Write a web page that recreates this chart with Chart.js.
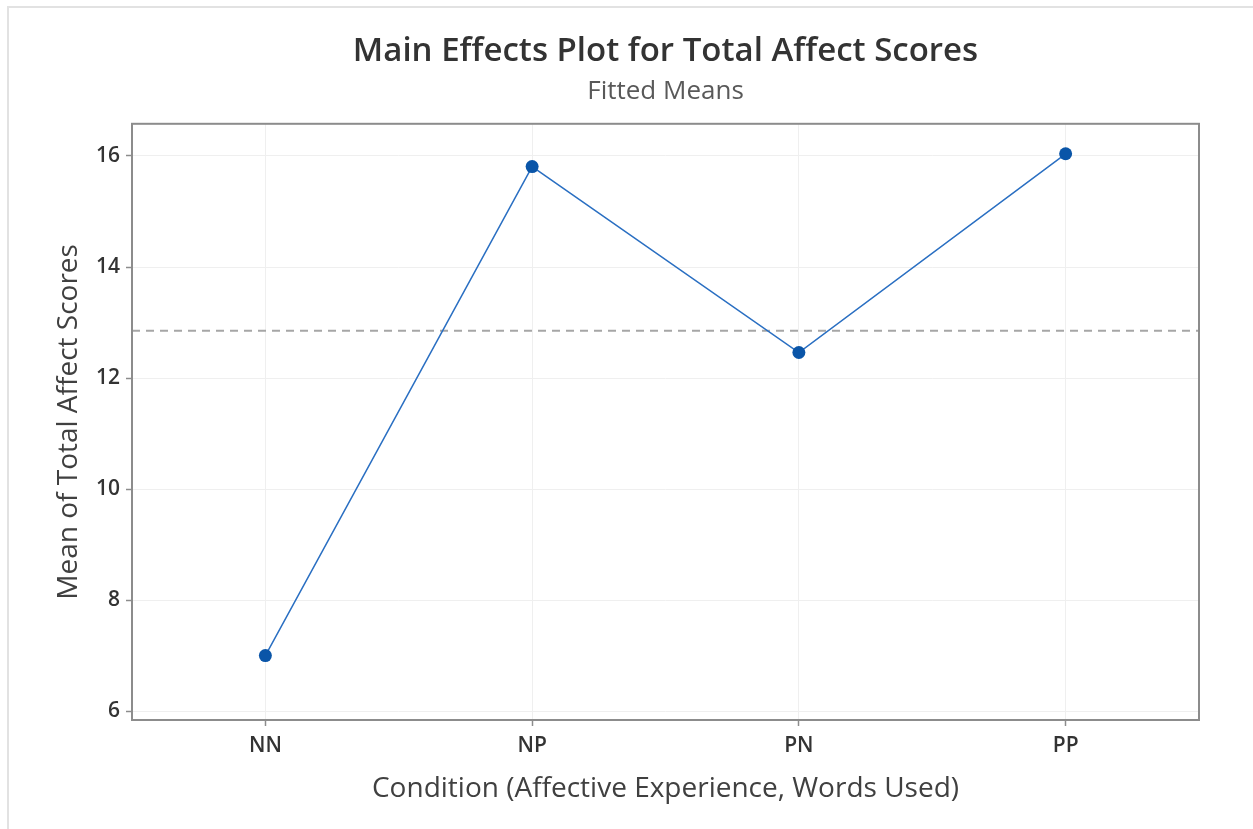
<!DOCTYPE html>
<html>
<head>
<meta charset="utf-8">
<script src="https://cdn.jsdelivr.net/npm/chart.js@4.4.1/dist/chart.umd.min.js"></script>
<style>
  html, body { margin: 0; padding: 0; background: #ffffff; }
  #wrap { position: relative; width: 1253px; height: 829px; }
  #frame { position: absolute; left: 7px; top: 6px; right: 0; bottom: 0; border-top: 2px solid #e2e2e2; border-left: 2px solid #e2e2e2; }
  canvas { position: absolute; left: 0; top: 0; }
</style>
</head>
<body>
<div id="wrap">
  <div id="frame"></div>
  <canvas id="c" width="1253" height="829"></canvas>
</div>
<script>
// ---- data ----
const categories = ['NN', 'NP', 'PN', 'PP'];
const fittedMeans = [7.00, 15.81, 12.46, 16.04];
const overallMean = 12.85;
const yTicks = [6, 8, 10, 12, 14, 16];
const yMin = 5.84;
const yMax = 16.58;

const titleText = 'Main Effects Plot for Total Affect Scores';
const subtitleText = 'Fitted Means';
const xTitle = 'Condition (Affective Experience, Words Used)';
const yTitle = 'Mean of Total Affect Scores';

const FONT = "'Open Sans', 'Noto Sans', sans-serif";

const frameAndRef = {
  id: 'frameAndRef',
  beforeDatasetsDraw(chart) {
    const { ctx, chartArea: a, scales } = chart;
    const y = scales.y.getPixelForValue(overallMean);
    ctx.save();
    ctx.strokeStyle = '#a6a6a6';
    ctx.lineWidth = 2;
    ctx.setLineDash([8, 6]);
    ctx.beginPath();
    ctx.moveTo(a.left, y);
    ctx.lineTo(a.right, y);
    ctx.stroke();
    ctx.restore();
  },
  afterDraw(chart) {
    const { ctx, chartArea: a } = chart;
    ctx.save();
    ctx.strokeStyle = '#8c8c8c';
    ctx.lineWidth = 2;
    ctx.strokeRect(a.left, a.top, a.right - a.left, a.bottom - a.top);
    ctx.restore();
  }
};

function build() {
  new Chart(document.getElementById('c'), {
    type: 'line',
    data: {
      labels: categories,
      datasets: [{
        data: fittedMeans,
        borderColor: '#2a6fc2',
        borderWidth: 1.5,
        pointRadius: 6.5,
        pointHoverRadius: 6.5,
        pointBackgroundColor: '#0a55a8',
        pointBorderColor: '#0a55a8',
        pointBorderWidth: 0,
        tension: 0,
        fill: false
      }]
    },
    options: {
      responsive: false,
      animation: false,
      events: [],
      layout: { padding: { left: 0, right: 54, top: 0, bottom: 0 } },
      plugins: {
        legend: { display: false },
        tooltip: { enabled: false },
        title: {
          display: true,
          text: titleText,
          fullSize: false,
          color: '#333333',
          font: { family: FONT, size: 33, weight: '600' },
          padding: { top: 32, bottom: 0 }
        },
        subtitle: {
          display: true,
          text: subtitleText,
          fullSize: false,
          color: '#595959',
          font: { family: FONT, size: 26, weight: '400' },
          padding: { top: 4, bottom: 17 }
        }
      },
      scales: {
        x: {
          type: 'category',
          offset: true,
          afterFit(s) { s.height = 109; },
          grid: {
            offset: false,
            color: '#efefef',
            lineWidth: 1,
            drawTicks: true,
            tickLength: 6,
            tickColor: '#8c8c8c',
            tickWidth: 1.5
          },
          border: { display: false },
          ticks: {
            color: '#333333',
            font: { family: FONT, size: 21, weight: '600' },
            padding: 7,
            maxRotation: 0
          },
          title: {
            display: true,
            text: xTitle,
            color: '#404040',
            font: { family: FONT, size: 28, weight: '400' },
            padding: { top: 0, bottom: 23 }
          }
        },
        y: {
          type: 'linear',
          min: yMin,
          max: yMax,
          afterFit(s) { s.width = 132; },
          afterBuildTicks(s) { s.ticks = yTicks.map(v => ({ value: v })); },
          grid: {
            color: '#efefef',
            lineWidth: 1,
            drawTicks: true,
            tickLength: 6,
            tickColor: '#8c8c8c',
            tickWidth: 1.5
          },
          border: { display: false },
          ticks: {
            color: '#333333',
            font: { family: FONT, size: 21, weight: '600' },
            padding: 6
          },
          title: {
            display: true,
            text: yTitle,
            color: '#404040',
            font: { family: FONT, size: 28, weight: '400' },
            padding: { top: 52, bottom: 0 }
          }
        }
      }
    },
    plugins: [frameAndRef]
  });
}

const loads = [
  document.fonts.load("600 33px 'Open Sans'"),
  document.fonts.load("400 28px 'Open Sans'"),
  document.fonts.load("600 21px 'Open Sans'")
];
Promise.all(loads).then(build, build);
</script>
</body>
</html>
